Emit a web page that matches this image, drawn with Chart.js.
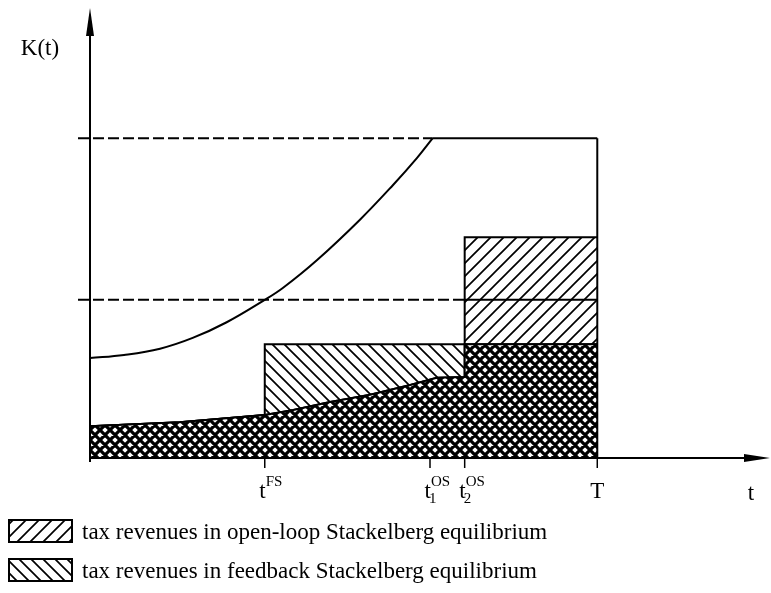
<!DOCTYPE html>
<html>
<head>
<meta charset="utf-8">
<script src="https://cdn.jsdelivr.net/npm/chart.js@4"></script>
<style>
html, body { margin: 0; padding: 0; background: #fff; }
</style>
</head>
<body>
<canvas id="chart" width="771" height="593"></canvas>
<script>
// lower path = top of the shaded areas before the jumps
const lowT = [0, 1.32, 2.57, 2.99, 3.53, 4.12, 4.71, 5.10, 5.51];
const lowK = [0.71, 0.80, 0.96, 1.07, 1.25, 1.41, 1.63, 1.79, 1.81];
// rising curve up to the upper bound
const upT = [0, 0.5, 1.03, 1.51, 2.01, 2.57, 2.84, 3.34, 3.97, 4.46, 4.81, 5.04];
const upK = [2.23, 2.30, 2.44, 2.68, 3.03, 3.53, 3.80, 4.42, 5.32, 6.10, 6.70, 7.14];
// time marks on the t axis
const tickT = [2.57, 5.0, 5.51, 7.46];
const tickBase = ['t', 't', 't', 'T'];
const tickSub = ['', '1', '2', ''];
const tickSup = ['FS', 'OS', 'OS', ''];
// levels
const levelHigh = 7.14;
const levelLow = 3.53;
const levelOL = 4.93;
const levelFB = 2.54;
const legendLabels = [
  'tax revenues in open-loop Stackelberg equilibrium',
  'tax revenues in feedback Stackelberg equilibrium'
];

const tFS = tickT[0], t2 = tickT[2], T = tickT[3];
const xStart = -12 / 68;
const FONT = '"Liberation Serif", "DejaVu Serif", serif';

function pts(xs, ys) { return xs.map((x, i) => ({ x: x, y: ys[i] })); }

function hatch(kind, size, lw, bg) {
  const c = document.createElement('canvas');
  c.width = size; c.height = size;
  const g = c.getContext('2d');
  if (bg) { g.fillStyle = bg; g.fillRect(0, 0, size, size); }
  g.strokeStyle = '#000';
  g.lineWidth = lw;
  g.lineCap = 'square';
  const s = size;
  g.beginPath();
  if (kind === '/' || kind === 'x') {
    g.moveTo(-1, 1); g.lineTo(1, -1);
    g.moveTo(0, s); g.lineTo(s, 0);
    g.moveTo(s - 1, s + 1); g.lineTo(s + 1, s - 1);
  }
  if (kind === '\\' || kind === 'x') {
    g.moveTo(-1, s - 1); g.lineTo(1, s + 1);
    g.moveTo(0, 0); g.lineTo(s, s);
    g.moveTo(s - 1, -1); g.lineTo(s + 1, 1);
  }
  g.stroke();
  return g.createPattern(c, 'repeat');
}

const patOL = hatch('/', 13, 1.7, null);
const patFB = hatch('\\', 12, 1.7, null);
const patX = hatch('x', 10, 3.2, '#fff');

const lowPts = pts(lowT, lowK);
const olData = lowPts.concat([{ x: t2, y: levelOL }, { x: T, y: levelOL }]);
const fbData = lowPts.filter(p => p.x <= tFS).concat([{ x: tFS, y: levelFB }, { x: T, y: levelFB }]);
const bothData = lowPts.concat([{ x: t2, y: levelFB }, { x: T, y: levelFB }]);

const upEnd = upT[upT.length - 1];
const highLine = [{ x: xStart, y: levelHigh }, { x: upEnd, y: levelHigh }, { x: T, y: levelHigh }];
const lowLine = [{ x: xStart, y: levelLow }, { x: t2, y: levelLow }, { x: T, y: levelLow }];

const axesPlugin = {
  id: 'axes',
  afterDraw(chart) {
    const ctx = chart.ctx;
    const xs = chart.scales.x, ys = chart.scales.y;
    const x0 = xs.getPixelForValue(0), y0 = ys.getPixelForValue(0);
    const xTop = ys.getPixelForValue(10), xEnd = xs.getPixelForValue(10);
    ctx.save();
    ctx.strokeStyle = '#000'; ctx.fillStyle = '#000';
    ctx.lineWidth = 2;
    ctx.beginPath();
    ctx.moveTo(x0, y0 + 4); ctx.lineTo(x0, xTop + 10);
    ctx.moveTo(x0, y0); ctx.lineTo(xEnd - 10, y0);
    ctx.stroke();
    // arrow heads
    ctx.beginPath();
    ctx.moveTo(x0, xTop - 2); ctx.lineTo(x0 - 4, xTop + 26); ctx.lineTo(x0 + 4, xTop + 26); ctx.closePath();
    ctx.fill();
    ctx.beginPath();
    ctx.moveTo(xEnd, y0); ctx.lineTo(xEnd - 26, y0 - 4); ctx.lineTo(xEnd - 26, y0 + 4); ctx.closePath();
    ctx.fill();
    // ticks and labels
    ctx.lineWidth = 1.5;
    ctx.textBaseline = 'alphabetic';
    tickT.forEach((t, i) => {
      const px = xs.getPixelForValue(t);
      ctx.beginPath(); ctx.moveTo(px, y0); ctx.lineTo(px, y0 + 10); ctx.stroke();
      ctx.font = '23px ' + FONT;
      if (!tickSub[i] && !tickSup[i]) {
        ctx.textAlign = 'center';
        ctx.fillText(tickBase[i], px, y0 + 40);
        return;
      }
      ctx.textAlign = 'right';
      ctx.fillText(tickBase[i], px + 1, y0 + 40);
      ctx.textAlign = 'left';
      ctx.font = '15px ' + FONT;
      if (tickSub[i]) ctx.fillText(tickSub[i], px - 1, y0 + 45);
      ctx.fillText(tickSup[i], px + 1, y0 + 28);
    });
    ctx.font = '23px ' + FONT;
    ctx.textAlign = 'center';
    ctx.fillText('t', 751, y0 + 42);
    ctx.fillText('K(t)', 40, 55);
    // legend
    const pats = [patOL, patFB];
    ctx.textAlign = 'left';
    legendLabels.forEach((lab, i) => {
      const by = 520 + i * 39;
      ctx.fillStyle = pats[i];
      ctx.fillRect(9, by, 63, 22);
      ctx.lineWidth = 2;
      ctx.strokeRect(9, by, 63, 22);
      ctx.fillStyle = '#000';
      ctx.fillText(lab, 82, by + 19);
    });
    ctx.restore();
  }
};

new Chart(document.getElementById('chart').getContext('2d'), {
  type: 'line',
  data: {
    datasets: [
      { data: highLine, borderColor: '#000', borderWidth: 2, fill: false, order: 0,
        segment: { borderDash: c => c.p0.parsed.x < upEnd - 0.01 ? [11, 4] : undefined } },
      { data: lowLine, borderColor: '#000', borderWidth: 2, fill: false, order: 0,
        segment: { borderDash: c => c.p0.parsed.x < t2 - 0.01 ? [11, 4] : undefined } },
      { data: pts(upT, upK), borderColor: '#000', borderWidth: 2, fill: false, order: 0,
        tension: 0.4 },
      { data: [{ x: T, y: 0 }, { x: T, y: levelHigh }], borderColor: '#000', borderWidth: 2, fill: false, order: 0 },
      { data: bothData, borderColor: '#000', borderWidth: 2, backgroundColor: patX, fill: 'origin', order: 1 },
      { data: fbData, borderColor: '#000', borderWidth: 2, backgroundColor: patFB, fill: 'origin', order: 2 },
      { data: olData, borderColor: '#000', borderWidth: 2, backgroundColor: patOL, fill: 'origin', order: 3 }
    ]
  },
  options: {
    responsive: false,
    animation: false,
    layout: { padding: { left: 78, right: 1, top: 10, bottom: 135 } },
    elements: { point: { radius: 0 }, line: { tension: 0 } },
    scales: {
      x: { type: 'linear', min: xStart, max: 10, display: false },
      y: { min: 0, max: 10, display: false }
    },
    plugins: { legend: { display: false }, tooltip: { enabled: false } }
  },
  plugins: [axesPlugin]
});
</script>
</body>
</html>
